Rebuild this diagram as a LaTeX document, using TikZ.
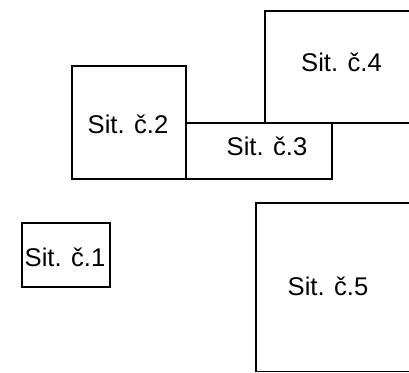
\documentclass[tikz,border=0pt]{standalone}
\usepackage{fontspec}
\setmainfont{Liberation Sans}
\usepackage{tikz}

\tikzset{
    sitbox/.style={draw=black,line width=0.8pt},
    sitlabel/.style={font=\fontsize{12.8}{15}\selectfont,inner sep=0pt}
}

\begin{document}
\begin{tikzpicture}[x=0.5pt,y=-0.5pt]
                \useasboundingbox (0,0) rectangle (409,373);
                \clip (0,0) rectangle (409,373);

                \draw[sitbox] (22,223) rectangle (110,287);
                \draw[sitbox] (72,66) rectangle (186,179);
                \draw[sitbox] (186,123) rectangle (332,179);
                \draw[sitbox] (265,11) rectangle (420,123);
                \draw[sitbox] (256,203) rectangle (420,371.5);

                \node[sitlabel] (sit1) at (65,257) {Sit. č.1};
                \node[sitlabel] (sit2) at (128,124) {Sit. č.2};
                \node[sitlabel] (sit3) at (267,146) {Sit. č.3};
                \node[sitlabel] (sit4) at (341.5,62.5) {Sit. č.4};
                \node[sitlabel] (sit5) at (328,286) {Sit. č.5};

            \end{tikzpicture}
\end{document}
